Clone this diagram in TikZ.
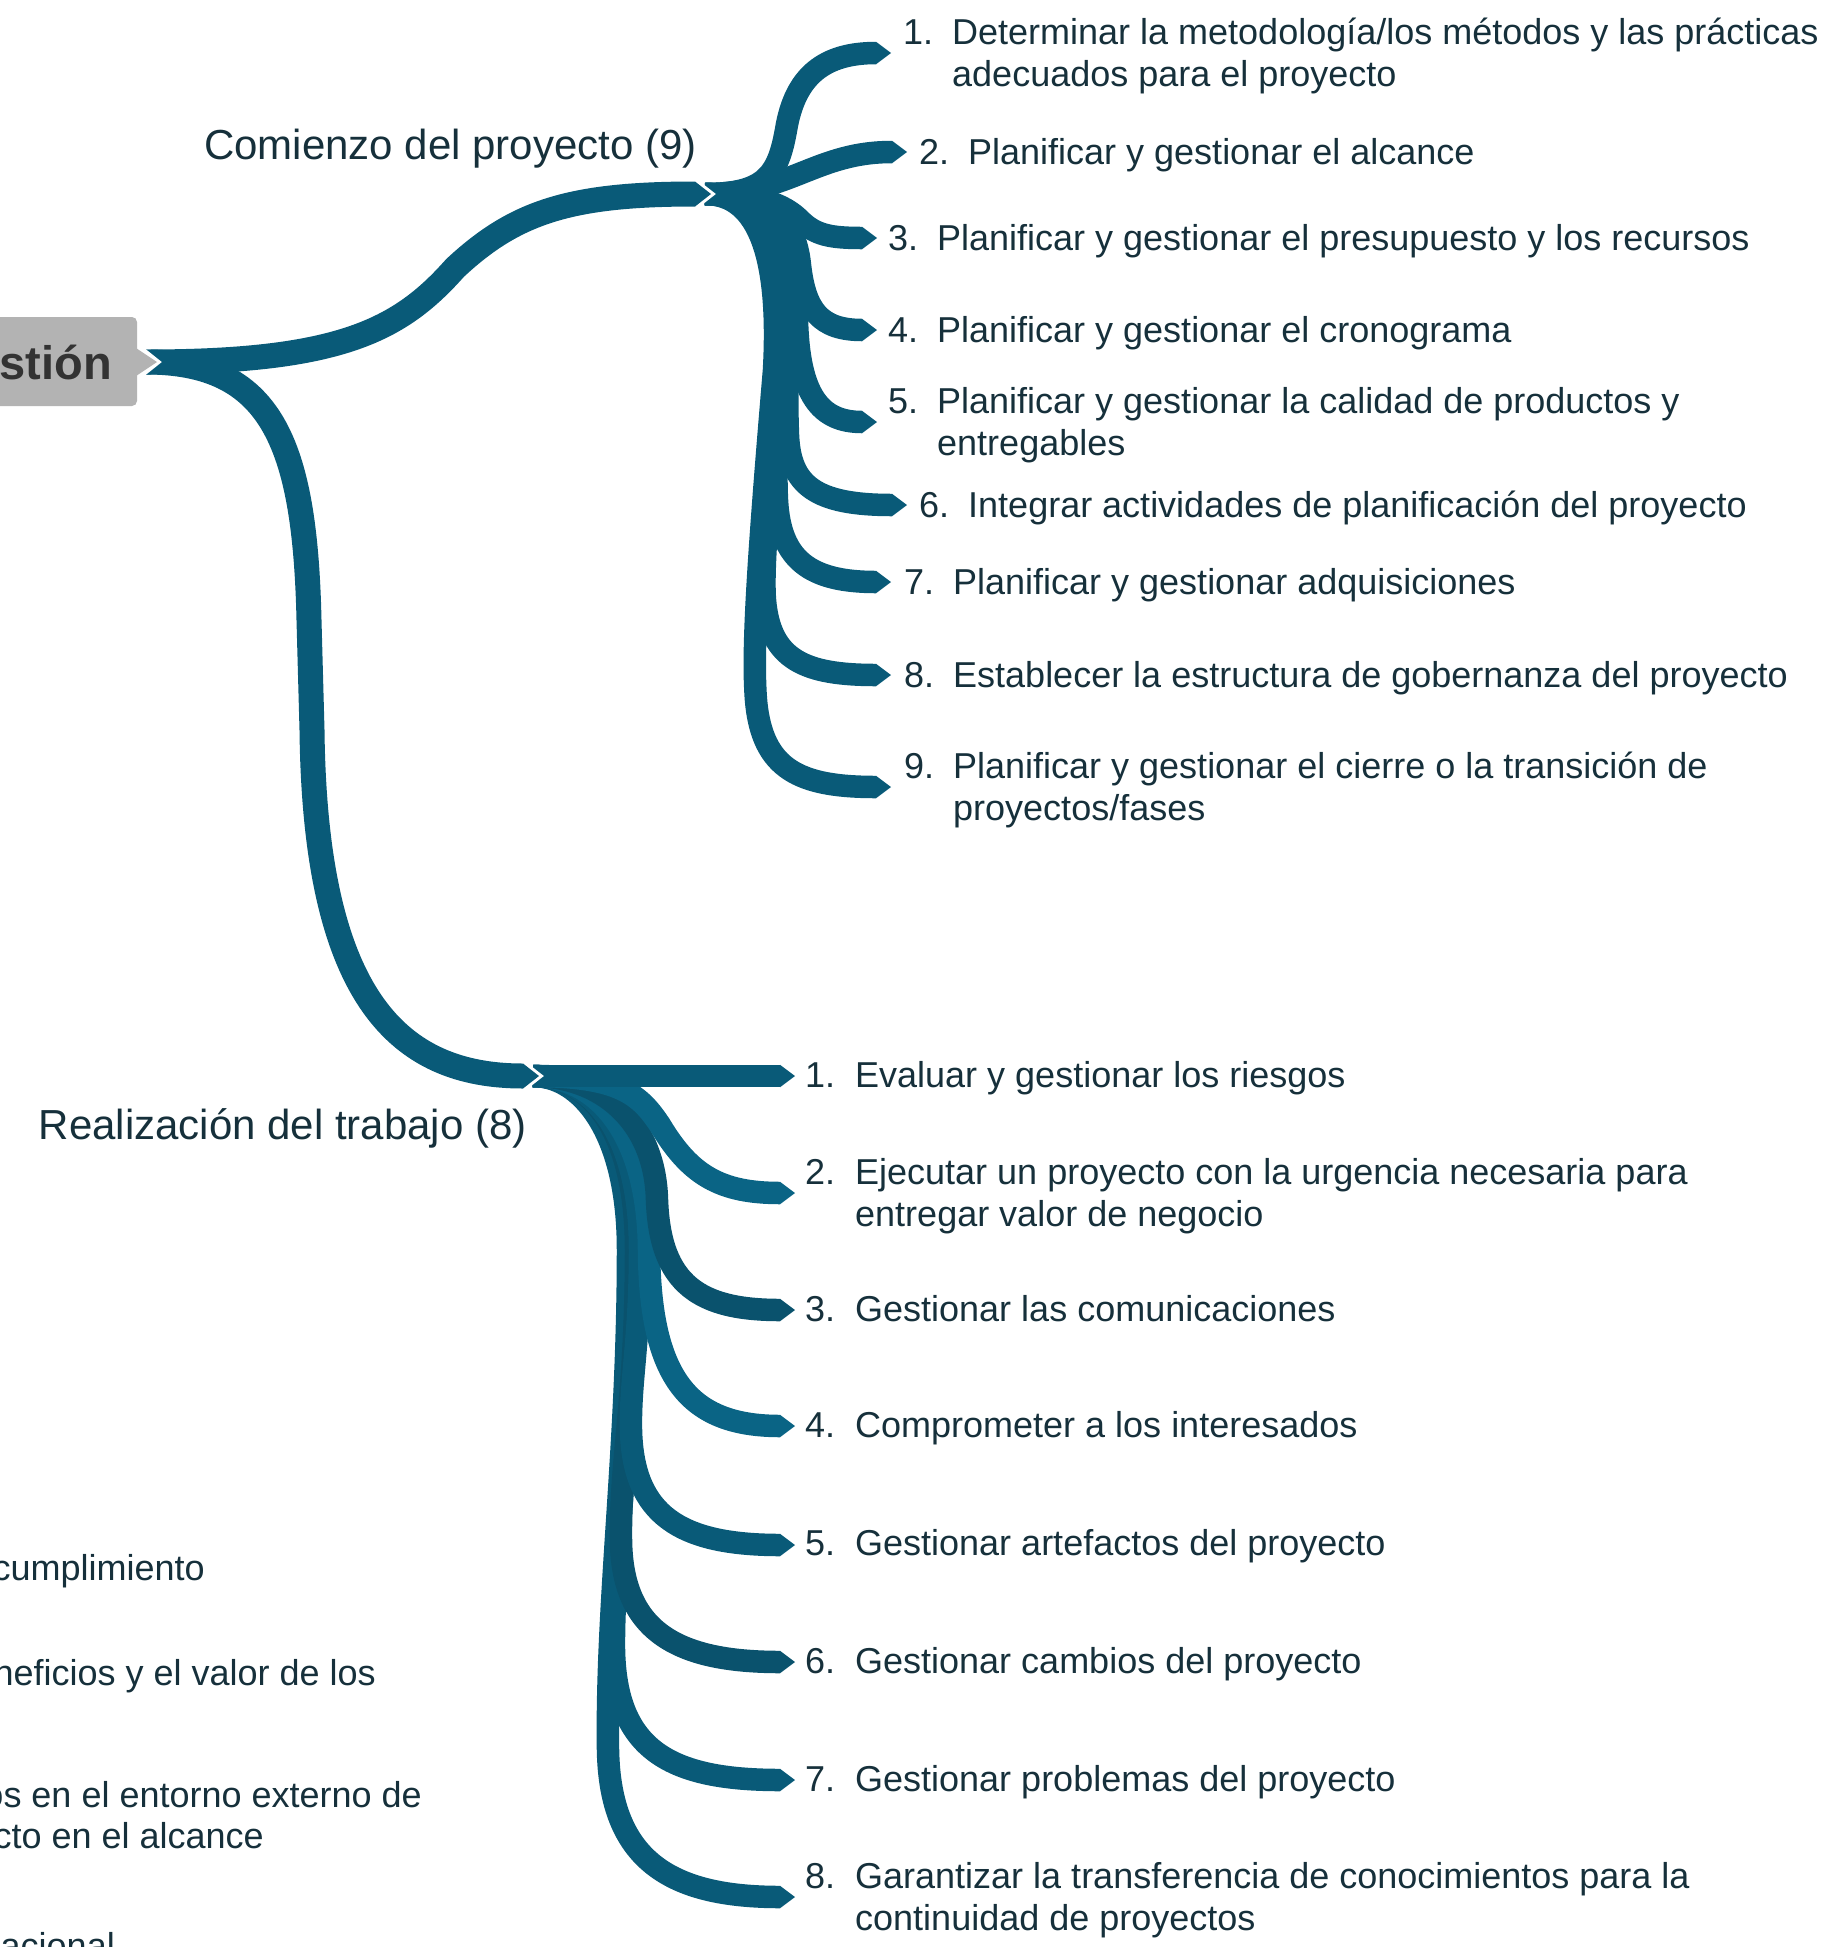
\documentclass[tikz,border=0pt]{standalone}
\usepackage{fontspec}
\setmainfont{Liberation Sans}
\newcommand\itmfont{\fontsize{36}{42}\selectfont}
\newcommand\grpfont{\fontsize{42}{48}\selectfont}
\newcommand\rtfont{\fontsize{47}{52}\selectfont\bfseries}
\definecolor{bandM}{HTML}{095A78}
\definecolor{bandL}{HTML}{0A6485}
\definecolor{bandD}{HTML}{0A526D}
\definecolor{txtc}{HTML}{16303B}
\definecolor{rootgray}{HTML}{B3B3B3}
\definecolor{roottxt}{HTML}{333333}
\begin{document}
\begin{tikzpicture}[x=1pt,y=-1pt,
  band/.style={line width=22.5pt, line cap=butt, line join=round},
  mainband/.style={line width=25pt, line cap=butt, line join=round, draw=bandM},
  tipc/.pic={\fill (0,-11.25) -- (15,0) -- (0,11.25) -- cycle;},
  tipm/.pic={\fill (0,-12.5) -- (16,0) -- (0,12.5) -- cycle;},
  itm/.style={font=\itmfont, text=txtc, align=left, anchor=west, inner sep=0pt},
  part/.style={font=\itmfont, text=txtc, anchor=base east, inner sep=0pt},
  grp/.style={font=\grpfont, text=txtc, anchor=base east, inner sep=0pt},
  gap/.style={draw=white, line width=6pt, line join=miter}
]
\useasboundingbox (0,0) rectangle (1830,1947);
\clip (0,0) rectangle (1830,1947);

% key points
\coordinate (rootpt) at (146,362);
\coordinate (cin) at (695,194);
\coordinate (chub) at (705,194);
\coordinate (rin) at (523,1076);
\coordinate (rhub) at (533,1076);
\coordinate (ce1) at (876,53);
\coordinate (ce2) at (892,152);
\coordinate (ce3) at (862,238);
\coordinate (ce4) at (862,330);
\coordinate (ce5) at (862,422);
\coordinate (ce6) at (892,505);
\coordinate (ce7) at (876,582);
\coordinate (ce8) at (876,675);
\coordinate (ce9) at (876,787);
\coordinate (re1) at (780,1076);
\coordinate (re2) at (780,1193);
\coordinate (re3) at (780,1310);
\coordinate (re4) at (780,1426);
\coordinate (re5) at (780,1545);
\coordinate (re6) at (780,1662);
\coordinate (re7) at (780,1780);
\coordinate (re8) at (780,1897);

% Realizacion children
\draw[band, draw=bandM] (rhub) .. controls (580,1076) and (628,1130) .. (628,1250) .. controls (628,1450) and (606,1600) .. (608,1750) .. controls (610,1860) and (670,1897) .. (re8);
\pic[color=bandM] at (re8) {tipc};
\draw[band, draw=bandM] (rhub) .. controls (585,1076) and (632,1130) .. (632,1250) .. controls (632,1450) and (613,1560) .. (614,1650) .. controls (616,1750) and (670,1780) .. (re7);
\pic[color=bandM] at (re7) {tipc};
\draw[band, draw=bandD] (rhub) .. controls (590,1076) and (636,1130) .. (636,1250) .. controls (636,1400) and (620,1460) .. (621,1540) .. controls (622,1630) and (675,1662) .. (re6);
\pic[color=bandD] at (re6) {tipc};
\draw[band, draw=bandM] (rhub) .. controls (590,1076) and (640,1130) .. (640,1250) .. controls (640,1340) and (630,1380) .. (631,1430) .. controls (633,1515) and (680,1545) .. (re5);
\pic[color=bandM] at (re5) {tipc};
\draw[band, draw=bandL] (rhub) .. controls (595,1076) and (648,1130) .. (649,1250) .. controls (650,1380) and (690,1426) .. (re4);
\pic[color=bandL] at (re4) {tipc};
\draw[band, draw=bandD] (rhub) .. controls (600,1076) and (655,1120) .. (657,1200) .. controls (660,1285) and (700,1310) .. (re3);
\pic[color=bandD] at (re3) {tipc};
\draw[band, draw=bandL] (rhub) .. controls (620,1076) and (640,1095) .. (660,1125) .. controls (690,1175) and (720,1193) .. (re2);
\pic[color=bandL] at (re2) {tipc};
\draw[band, draw=bandM] (rhub) -- (re1);
\pic[color=bandM] at (re1) {tipc};

% Comienzo children
\draw[band, draw=bandM] (chub) .. controls (760,194) and (780,260) .. (774,370) .. controls (758,560) and (752,650) .. (756,700) .. controls (762,770) and (800,787) .. (ce9);
\draw[band, draw=bandM] (chub) .. controls (760,194) and (782,250) .. (778,350) .. controls (772,480) and (762,560) .. (765,600) .. controls (770,660) and (805,675) .. (ce8);
\draw[band, draw=bandM] (chub) .. controls (760,194) and (785,240) .. (782,340) .. controls (779,420) and (775,460) .. (777,500) .. controls (780,560) and (810,582) .. (ce7);
\draw[band, draw=bandM] (chub) .. controls (760,194) and (790,230) .. (788,330) .. controls (787,380) and (787,410) .. (788,435) .. controls (790,485) and (815,505) .. (ce6);
\draw[band, draw=bandM] (chub) .. controls (762,194) and (796,230) .. (797,320) .. controls (799,395) and (820,422) .. (ce5);
\draw[band, draw=bandM] (chub) .. controls (765,194) and (795,215) .. (800,265) .. controls (805,310) and (820,330) .. (ce4);
\draw[band, draw=bandM] (chub) .. controls (760,194) and (785,205) .. (800,220) .. controls (815,235) and (830,238) .. (ce3);
\draw[band, draw=bandM] (chub) .. controls (790,194) and (815,152) .. (ce2);
\draw[band, draw=bandM] (chub) .. controls (765,194) and (778,175) .. (786,130) .. controls (795,75) and (825,53) .. (ce1);
\foreach \e in {ce1,ce2,ce3,ce4,ce5,ce6,ce7,ce8,ce9} {\pic[color=bandM] at (\e) {tipc};}

% gaps around the main band tips
\draw[gap] (695,181.5) -- (711,194) -- (695,206.5);
\draw[gap] (523,1063.5) -- (539,1076) -- (523,1088.5);

% main bands
\draw[mainband] (rootpt) .. controls (340,362) and (400,330) .. (455,268) .. controls (515,212) and (570,194) .. (cin);
\draw[mainband] (rootpt) .. controls (270,362) and (305,440) .. (309,620) -- (312,730) .. controls (315,1000) and (400,1076) .. (rin);
\pic[color=bandM] at (cin) {tipm};
\pic[color=bandM] at (rin) {tipm};

% root box
\draw[gap] (137,346) -- (157,362) -- (137,378);
\fill[rootgray, rounded corners=5pt] (-30,317) rectangle (137,406);
\fill[rootgray] (136,348) -- (157,362) -- (136,376) -- cycle;
\node[font=\rtfont, text=roottxt, anchor=base east, inner sep=0pt] (root) at (112,379) {stión};

% group labels
\node[grp] (comienzo) at (697,159) {Comienzo del proyecto (9)};
\node[grp] (realiz) at (527,1139) {Realización del trabajo (8)};

% Comienzo items
\node[itm] (c1) at (903,57.5) {\strut\makebox[49pt][l]{1.}Determinar la metodología/los métodos y las prácticas\\\hspace*{49pt}adecuados para el proyecto\strut};
\node[itm] (c2) at (919,156.5) {\strut\makebox[49pt][l]{2.}Planificar y gestionar el alcance};
\node[itm] (c3) at (888,242.5) {\strut\makebox[49pt][l]{3.}Planificar y gestionar el presupuesto y los recursos};
\node[itm] (c4) at (888,334.5) {\strut\makebox[49pt][l]{4.}Planificar y gestionar el cronograma};
\node[itm] (c5) at (888,426.5) {\strut\makebox[49pt][l]{5.}Planificar y gestionar la calidad de productos y\\\hspace*{49pt}entregables\strut};
\node[itm] (c6) at (919,509.5) {\strut\makebox[49pt][l]{6.}Integrar actividades de planificación del proyecto};
\node[itm] (c7) at (904,586.5) {\strut\makebox[49pt][l]{7.}Planificar y gestionar adquisiciones};
\node[itm] (c8) at (904,679.5) {\strut\makebox[49pt][l]{8.}Establecer la estructura de gobernanza del proyecto};
\node[itm] (c9) at (904,791.5) {\strut\makebox[49pt][l]{9.}Planificar y gestionar el cierre o la transición de\\\hspace*{49pt}proyectos/fases\strut};

% Realizacion items
\node[itm] (r1) at (805,1079.5) {\strut\makebox[50pt][l]{1.}Evaluar y gestionar los riesgos};
\node[itm] (r2) at (805,1197.5) {\strut\makebox[50pt][l]{2.}Ejecutar un proyecto con la urgencia necesaria para\\\hspace*{50pt}entregar valor de negocio\strut};
\node[itm] (r3) at (805,1313.5) {\strut\makebox[50pt][l]{3.}Gestionar las comunicaciones};
\node[itm] (r4) at (805,1429.5) {\strut\makebox[50pt][l]{4.}Comprometer a los interesados};
\node[itm] (r5) at (805,1547.5) {\strut\makebox[50pt][l]{5.}Gestionar artefactos del proyecto};
\node[itm] (r6) at (805,1665.5) {\strut\makebox[50pt][l]{6.}Gestionar cambios del proyecto};
\node[itm] (r7) at (805,1783.5) {\strut\makebox[50pt][l]{7.}Gestionar problemas del proyecto};
\node[itm] (r8) at (805,1901.5) {\strut\makebox[50pt][l]{8.}Garantizar la transferencia de conocimientos para la\\\hspace*{50pt}continuidad de proyectos\strut};

% partly visible texts on the left (cut by the picture's edge, as in the reference)
\node[part] (p1) at (205,1580) {cumplimiento};
\node[part] (p2) at (376,1685) {neficios y el valor de los};
\node[part] (p3) at (422,1807) {os en el entorno externo de};
\node[part] (p4) at (264,1848) {cto en el alcance};
\node[part] (p5) at (115,1958) {acional};
\end{tikzpicture}
\end{document}
